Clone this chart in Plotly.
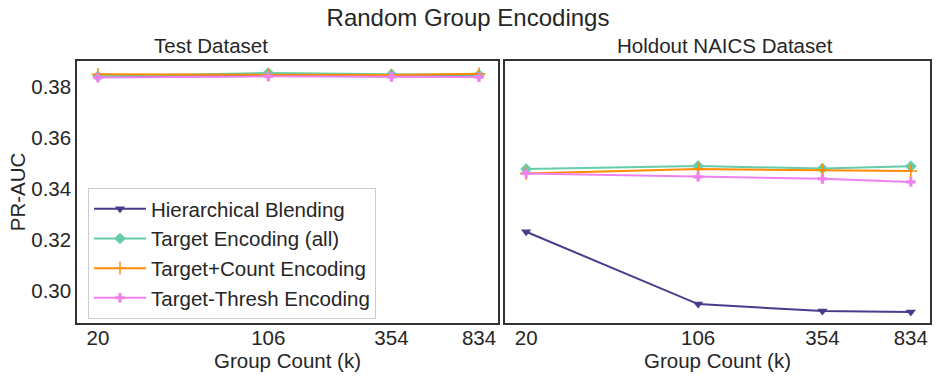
import plotly.graph_objects as go
from plotly.subplots import make_subplots

group_counts = [20, 106, 354, 834]
tick_labels = ["20", "106", "354", "834"]

series_names = ["Hierarchical Blending", "Target Encoding (all)",
                "Target+Count Encoding", "Target-Thresh Encoding"]

# Test Dataset
test_hier = [0.3838, 0.3842, 0.3840, 0.3840]
test_target = [0.3840, 0.3853, 0.3848, 0.3846]
test_count = [0.3848, 0.3845, 0.3845, 0.3850]
test_thresh = [0.3835, 0.3840, 0.3838, 0.3837]
test_baseline = 0.3837

# Holdout NAICS Dataset
hold_hier = [0.3232, 0.2949, 0.2922, 0.2918]
hold_target = [0.3477, 0.3489, 0.3479, 0.3488]
hold_count = [0.3460, 0.3477, 0.3473, 0.3470]
hold_thresh = [0.3460, 0.3447, 0.3439, 0.3427]
hold_baseline = 0.3465

colors = ["#483D8B", "#66CDAA", "#FF8C00", "#EE82EE"]
symbols = ["triangle-down", "diamond", "cross-thin", "cross"]
sizes = [9, 9, 9, 8]

fig = make_subplots(rows=1, cols=2, shared_yaxes=True,
                    subplot_titles=["Test Dataset", "Holdout NAICS Dataset"])

panels = [
    (1, [test_hier, test_target, test_count, test_thresh], test_baseline),
    (2, [hold_hier, hold_target, hold_count, hold_thresh], hold_baseline),
]

for col, data, base in panels:
    fig.add_hline(y=base, line=dict(color="#A0A0A0", width=1.5), row=1, col=col)
    for i, (name, ys) in enumerate(zip(series_names, data)):
        marker = dict(symbol=symbols[i], size=sizes[i], color=colors[i])
        if symbols[i] == "cross-thin":
            marker["line"] = dict(color=colors[i], width=1.5)
        fig.add_trace(go.Scatter(
            x=group_counts, y=ys, mode="lines+markers", name=name,
            line=dict(color=colors[i], width=2), marker=marker,
            showlegend=(col == 1),
        ), row=1, col=col)

font_family = "Liberation Sans, Arial, sans-serif"
text_color = "#262626"
axis_common = dict(showgrid=False, zeroline=False, showline=True, mirror=True,
                   linecolor="#333333", linewidth=1.5, ticks="",
                   tickfont=dict(size=20.5, color=text_color))

fig.update_xaxes(type="log", range=[1.212, 3.002], tickvals=group_counts,
                 ticktext=tick_labels, ticklabelstandoff=-4,
                 title=dict(text="Group Count (k)", font=dict(size=20.5, color=text_color), standoff=0),
                 **axis_common)
fig.update_yaxes(range=[0.2875, 0.3900], tickvals=[0.30, 0.32, 0.34, 0.36, 0.38],
                 ticktext=["0.30", "0.32", "0.34", "0.36", "0.38"], **axis_common)
fig.update_yaxes(title=dict(text="PR-AUC", font=dict(size=20.5, color=text_color), standoff=0),
                 row=1, col=1)
fig.update_yaxes(showticklabels=False, row=1, col=2)

fig.update_layout(
    width=936, height=380,
    margin=dict(l=0, r=0, t=61, b=57),
    plot_bgcolor="white", paper_bgcolor="white",
    font=dict(family=font_family, color=text_color),
    title=dict(text="Random Group Encodings", x=0.5, xanchor="center",
               y=1 - 18 / 380, yanchor="middle", font=dict(size=24, color=text_color)),
    xaxis=dict(domain=[77 / 936, 498 / 936]),
    xaxis2=dict(domain=[505 / 936, 930 / 936]),
    legend=dict(x=88 / 936, y=(323 - 188) / 262, xanchor="left", yanchor="top",
                bgcolor="white", bordercolor="#CCCCCC", borderwidth=1,
                font=dict(size=20.5, color=text_color), itemwidth=52,
                tracegroupgap=0),
)
for ann in fig.layout.annotations:
    ann.font = dict(size=20.5, color=text_color)
    ann.yshift = 2

fig.write_html("out.html", config={"displayModeBar": False},
               post_script="document.body.style.margin='0';")
